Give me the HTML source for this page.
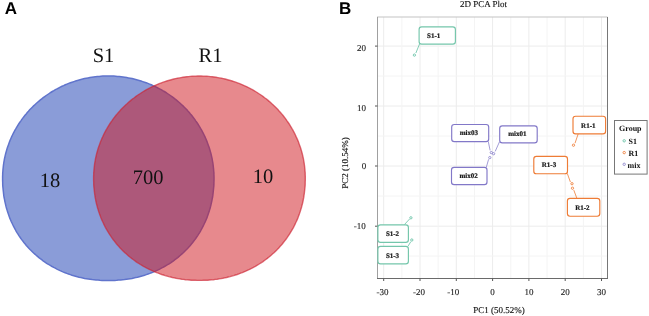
<!DOCTYPE html>
<html><head><meta charset="utf-8">
<style>
html,body{margin:0;padding:0;background:#fff;width:649px;height:316px;overflow:hidden}
svg{display:block;will-change:transform}
text{text-rendering:geometricPrecision}
.pl{font-family:"Liberation Sans",sans-serif;font-weight:bold;font-size:17px;fill:#000}
.sv{font-family:"Liberation Serif",serif;fill:#111}
.vn{font-size:20.5px}
.tk{font-size:9px;fill:#222;stroke:#222;stroke-width:0.12px}
.ax{font-size:9px;fill:#111;stroke:#111;stroke-width:0.12px}
.lb{font-size:7px;font-weight:bold;fill:#1a1a1a;stroke:#1a1a1a;stroke-width:0.22px}
.lg{font-size:8px;font-weight:bold;fill:#111}
</style></head><body>
<svg width="649" height="316" viewBox="0 0 649 316">
<!-- Panel A -->
<text class="pl" x="4.8" y="13.9">A</text>
<g id="venn">
  <path d="M214.0,178.2 214.0,180.4 213.9,182.4 213.9,184.4 213.8,186.3 213.6,188.2 213.4,190.1 213.2,192.0 213.0,193.8 212.8,195.7 212.5,197.5 212.1,199.3 211.8,201.1 211.4,202.9 211.0,204.7 210.6,206.4 210.1,208.2 209.6,209.9 209.1,211.6 208.5,213.3 207.9,215.0 207.3,216.7 206.7,218.4 206.0,220.0 205.3,221.6 204.5,223.2 203.8,224.8 203.0,226.4 202.2,228.0 201.3,229.5 200.5,231.1 199.6,232.6 198.6,234.1 197.7,235.6 196.7,237.0 195.7,238.5 194.7,239.9 193.6,241.3 192.5,242.7 191.4,244.0 190.3,245.4 189.1,246.7 188.0,248.0 186.8,249.3 185.5,250.5 184.3,251.7 183.0,253.0 181.7,254.1 180.4,255.3 179.1,256.4 177.7,257.6 176.3,258.7 174.9,259.7 173.5,260.8 172.0,261.8 170.6,262.8 169.1,263.8 167.6,264.7 166.0,265.6 164.5,266.5 162.9,267.4 161.3,268.2 159.7,269.1 158.1,269.9 156.5,270.6 154.8,271.4 153.2,272.1 151.5,272.7 149.8,273.4 148.1,274.0 146.3,274.6 144.6,275.2 142.8,275.7 141.1,276.2 139.3,276.7 137.5,277.2 135.7,277.6 133.8,278.0 132.0,278.4 130.1,278.7 128.3,279.0 126.4,279.3 124.5,279.6 122.5,279.8 120.6,280.0 118.6,280.1 116.7,280.3 114.7,280.4 112.6,280.4 110.5,280.5 108.3,280.5 106.1,280.5 104.0,280.4 101.9,280.4 99.9,280.3 98.0,280.1 96.0,280.0 94.1,279.8 92.1,279.6 90.2,279.3 88.3,279.0 86.5,278.7 84.6,278.4 82.8,278.0 80.9,277.6 79.1,277.2 77.3,276.7 75.5,276.2 73.8,275.7 72.0,275.2 70.3,274.6 68.5,274.0 66.8,273.4 65.1,272.7 63.4,272.1 61.8,271.4 60.1,270.6 58.5,269.9 56.9,269.1 55.3,268.2 53.7,267.4 52.1,266.5 50.6,265.6 49.0,264.7 47.5,263.8 46.0,262.8 44.6,261.8 43.1,260.8 41.7,259.7 40.3,258.7 38.9,257.6 37.5,256.4 36.2,255.3 34.9,254.1 33.6,253.0 32.3,251.7 31.1,250.5 29.8,249.3 28.6,248.0 27.5,246.7 26.3,245.4 25.2,244.0 24.1,242.7 23.0,241.3 21.9,239.9 20.9,238.5 19.9,237.0 18.9,235.6 18.0,234.1 17.0,232.6 16.1,231.1 15.3,229.5 14.4,228.0 13.6,226.4 12.8,224.8 12.1,223.2 11.3,221.6 10.6,220.0 9.9,218.4 9.3,216.7 8.7,215.0 8.1,213.3 7.5,211.6 7.0,209.9 6.5,208.2 6.0,206.4 5.6,204.7 5.2,202.9 4.8,201.1 4.5,199.3 4.1,197.5 3.8,195.7 3.6,193.8 3.4,192.0 3.2,190.1 3.0,188.2 2.8,186.3 2.7,184.4 2.7,182.4 2.6,180.4 2.6,178.2 2.6,176.4 2.7,174.6 2.7,172.9 2.9,171.1 3.0,169.3 3.2,167.5 3.4,165.7 3.6,164.0 3.9,162.2 4.2,160.5 4.5,158.7 4.9,157.0 5.3,155.2 5.7,153.5 6.2,151.7 6.7,150.0 7.2,148.3 7.8,146.6 8.4,144.9 9.0,143.2 9.6,141.6 10.3,139.9 11.0,138.3 11.7,136.6 12.5,135.0 13.3,133.4 14.1,131.8 15.0,130.2 15.9,128.7 16.8,127.1 17.7,125.6 18.7,124.0 19.7,122.5 20.7,121.1 21.7,119.6 22.8,118.1 23.9,116.7 25.0,115.3 26.2,113.9 27.3,112.5 28.5,111.2 29.7,109.8 31.0,108.5 32.3,107.2 33.6,105.9 34.9,104.7 36.2,103.5 37.6,102.3 39.0,101.1 40.4,99.9 41.8,98.8 43.2,97.7 44.7,96.6 46.2,95.5 47.7,94.5 49.2,93.5 50.7,92.5 52.3,91.5 53.9,90.6 55.4,89.7 57.1,88.8 58.7,88.0 60.3,87.1 62.0,86.3 63.6,85.6 65.3,84.8 67.0,84.1 68.7,83.4 70.4,82.8 72.1,82.2 73.9,81.6 75.6,81.0 77.4,80.5 79.2,80.0 80.9,79.5 82.7,79.0 84.5,78.6 86.3,78.2 88.1,77.9 89.9,77.6 91.8,77.3 93.6,77.0 95.4,76.8 97.3,76.6 99.1,76.4 100.9,76.2 102.8,76.1 104.6,76.1 106.5,76.0 108.3,76.0 110.1,76.0 112.0,76.1 113.8,76.1 115.7,76.2 117.5,76.4 119.3,76.6 121.2,76.8 123.0,77.0 124.8,77.3 126.7,77.6 128.5,77.9 130.3,78.2 132.1,78.6 133.9,79.0 135.7,79.5 137.4,80.0 139.2,80.5 141.0,81.0 142.7,81.6 144.5,82.2 146.2,82.8 147.9,83.4 149.6,84.1 151.3,84.8 153.0,85.6 154.6,86.3 156.3,87.1 157.9,88.0 159.5,88.8 161.2,89.7 162.7,90.6 164.3,91.5 165.9,92.5 167.4,93.5 168.9,94.5 170.4,95.5 171.9,96.6 173.4,97.7 174.8,98.8 176.2,99.9 177.6,101.1 179.0,102.3 180.4,103.5 181.7,104.7 183.0,105.9 184.3,107.2 185.6,108.5 186.9,109.8 188.1,111.2 189.3,112.5 190.4,113.9 191.6,115.3 192.7,116.7 193.8,118.1 194.9,119.6 195.9,121.1 196.9,122.5 197.9,124.0 198.9,125.6 199.8,127.1 200.7,128.7 201.6,130.2 202.5,131.8 203.3,133.4 204.1,135.0 204.9,136.6 205.6,138.3 206.3,139.9 207.0,141.6 207.6,143.2 208.2,144.9 208.8,146.6 209.4,148.3 209.9,150.0 210.4,151.7 210.9,153.5 211.3,155.2 211.7,157.0 212.1,158.7 212.4,160.5 212.7,162.2 213.0,164.0 213.2,165.7 213.4,167.5 213.6,169.3 213.7,171.1 213.9,172.9 213.9,174.6 214.0,176.4Z" fill="#8a9cd8" stroke="#6074cc" stroke-width="1.5"/>
  <path d="M305.3,178.2 305.3,180.3 305.2,182.3 305.2,184.2 305.1,186.1 304.9,188.0 304.7,189.9 304.5,191.7 304.3,193.5 304.0,195.4 303.8,197.2 303.4,199.0 303.1,200.8 302.7,202.5 302.3,204.3 301.8,206.1 301.4,207.8 300.8,209.5 300.3,211.2 299.7,212.9 299.2,214.6 298.5,216.3 297.9,218.0 297.2,219.6 296.5,221.2 295.7,222.8 295.0,224.4 294.2,226.0 293.4,227.6 292.5,229.1 291.6,230.7 290.7,232.2 289.8,233.7 288.8,235.2 287.8,236.6 286.8,238.1 285.8,239.5 284.7,240.9 283.6,242.3 282.5,243.7 281.4,245.0 280.2,246.3 279.0,247.7 277.8,248.9 276.6,250.2 275.3,251.4 274.0,252.7 272.7,253.8 271.4,255.0 270.0,256.2 268.7,257.3 267.3,258.4 265.8,259.5 264.4,260.5 263.0,261.6 261.5,262.6 260.0,263.5 258.5,264.5 256.9,265.4 255.4,266.3 253.8,267.2 252.2,268.0 250.6,268.9 249.0,269.7 247.3,270.4 245.7,271.2 244.0,271.9 242.3,272.6 240.6,273.2 238.9,273.9 237.2,274.5 235.4,275.0 233.7,275.6 231.9,276.1 230.1,276.6 228.3,277.0 226.5,277.5 224.7,277.9 222.8,278.3 221.0,278.6 219.1,278.9 217.2,279.2 215.3,279.4 213.4,279.7 211.5,279.9 209.6,280.0 207.6,280.2 205.7,280.3 203.7,280.3 201.6,280.4 199.5,280.4 197.3,280.4 195.2,280.3 193.2,280.3 191.3,280.2 189.3,280.0 187.4,279.9 185.5,279.7 183.6,279.4 181.7,279.2 179.8,278.9 177.9,278.6 176.1,278.3 174.2,277.9 172.4,277.5 170.6,277.0 168.8,276.6 167.0,276.1 165.2,275.6 163.5,275.0 161.7,274.5 160.0,273.9 158.3,273.2 156.6,272.6 154.9,271.9 153.2,271.2 151.6,270.4 149.9,269.7 148.3,268.9 146.7,268.0 145.1,267.2 143.5,266.3 142.0,265.4 140.4,264.5 138.9,263.5 137.4,262.6 135.9,261.6 134.5,260.5 133.1,259.5 131.6,258.4 130.2,257.3 128.9,256.2 127.5,255.0 126.2,253.8 124.9,252.7 123.6,251.4 122.3,250.2 121.1,248.9 119.9,247.7 118.7,246.3 117.5,245.0 116.4,243.7 115.3,242.3 114.2,240.9 113.1,239.5 112.1,238.1 111.1,236.6 110.1,235.2 109.1,233.7 108.2,232.2 107.3,230.7 106.4,229.1 105.5,227.6 104.7,226.0 103.9,224.4 103.2,222.8 102.4,221.2 101.7,219.6 101.0,218.0 100.4,216.3 99.7,214.6 99.2,212.9 98.6,211.2 98.1,209.5 97.5,207.8 97.1,206.1 96.6,204.3 96.2,202.5 95.8,200.8 95.5,199.0 95.1,197.2 94.9,195.4 94.6,193.5 94.4,191.7 94.2,189.9 94.0,188.0 93.8,186.1 93.7,184.2 93.7,182.3 93.6,180.3 93.6,178.2 93.6,176.4 93.7,174.6 93.7,172.9 93.9,171.1 94.0,169.3 94.2,167.5 94.4,165.7 94.6,164.0 94.9,162.2 95.2,160.5 95.5,158.7 95.9,157.0 96.3,155.2 96.7,153.5 97.2,151.7 97.7,150.0 98.2,148.3 98.8,146.6 99.4,144.9 100.0,143.2 100.6,141.6 101.3,139.9 102.0,138.3 102.8,136.6 103.5,135.0 104.3,133.4 105.1,131.8 106.0,130.2 106.9,128.7 107.8,127.1 108.7,125.6 109.7,124.0 110.7,122.5 111.7,121.1 112.7,119.6 113.8,118.1 114.9,116.7 116.0,115.3 117.2,113.9 118.4,112.5 119.6,111.2 120.8,109.8 122.0,108.5 123.3,107.2 124.6,105.9 125.9,104.7 127.3,103.5 128.6,102.3 130.0,101.1 131.4,99.9 132.8,98.8 134.3,97.7 135.7,96.6 137.2,95.5 138.7,94.5 140.3,93.5 141.8,92.5 143.4,91.5 144.9,90.6 146.5,89.7 148.1,88.8 149.8,88.0 151.4,87.1 153.0,86.3 154.7,85.6 156.4,84.8 158.1,84.1 159.8,83.4 161.5,82.8 163.2,82.2 165.0,81.6 166.7,81.0 168.5,80.5 170.3,80.0 172.1,79.5 173.8,79.0 175.6,78.6 177.4,78.2 179.3,77.9 181.1,77.6 182.9,77.3 184.7,77.0 186.6,76.8 188.4,76.6 190.2,76.4 192.1,76.2 193.9,76.1 195.8,76.1 197.6,76.0 199.4,76.0 201.3,76.0 203.1,76.1 205.0,76.1 206.8,76.2 208.7,76.4 210.5,76.6 212.3,76.8 214.2,77.0 216.0,77.3 217.8,77.6 219.6,77.9 221.5,78.2 223.3,78.6 225.1,79.0 226.8,79.5 228.6,80.0 230.4,80.5 232.2,81.0 233.9,81.6 235.7,82.2 237.4,82.8 239.1,83.4 240.8,84.1 242.5,84.8 244.2,85.6 245.9,86.3 247.5,87.1 249.1,88.0 250.8,88.8 252.4,89.7 254.0,90.6 255.5,91.5 257.1,92.5 258.6,93.5 260.2,94.5 261.7,95.5 263.2,96.6 264.6,97.7 266.1,98.8 267.5,99.9 268.9,101.1 270.3,102.3 271.6,103.5 273.0,104.7 274.3,105.9 275.6,107.2 276.9,108.5 278.1,109.8 279.3,111.2 280.5,112.5 281.7,113.9 282.9,115.3 284.0,116.7 285.1,118.1 286.2,119.6 287.2,121.1 288.2,122.5 289.2,124.0 290.2,125.6 291.1,127.1 292.0,128.7 292.9,130.2 293.8,131.8 294.6,133.4 295.4,135.0 296.1,136.6 296.9,138.3 297.6,139.9 298.3,141.6 298.9,143.2 299.5,144.9 300.1,146.6 300.7,148.3 301.2,150.0 301.7,151.7 302.2,153.5 302.6,155.2 303.0,157.0 303.4,158.7 303.7,160.5 304.0,162.2 304.3,164.0 304.5,165.7 304.7,167.5 304.9,169.3 305.0,171.1 305.2,172.9 305.2,174.6 305.3,176.4Z" fill="rgb(208,20,28)" fill-opacity="0.5" stroke="rgb(205,35,50)" stroke-opacity="0.65" stroke-width="1.4"/>
</g>
<text class="sv vn" x="103.5" y="61.8" text-anchor="middle">S1</text>
<text class="sv vn" x="210.5" y="61.8" text-anchor="middle">R1</text>
<text class="sv vn" x="50" y="186.8" text-anchor="middle">18</text>
<text class="sv vn" x="148" y="183.8" text-anchor="middle">700</text>
<text class="sv vn" x="263" y="182.8" text-anchor="middle">10</text>

<!-- Panel B -->
<text class="pl" x="338.9" y="13.9">B</text>
<text class="sv ax" x="483.5" y="7.4" text-anchor="middle">2D PCA Plot</text>
<!-- grid -->
<g stroke="#ececec" stroke-width="1">
  <line x1="383.7" y1="17" x2="383.7" y2="278"/>
  <line x1="420" y1="17" x2="420" y2="278"/>
  <line x1="456.3" y1="17" x2="456.3" y2="278"/>
  <line x1="492.6" y1="17" x2="492.6" y2="278"/>
  <line x1="528.9" y1="17" x2="528.9" y2="278"/>
  <line x1="565.2" y1="17" x2="565.2" y2="278"/>
  <line x1="601.5" y1="17" x2="601.5" y2="278"/>
  <line x1="377" y1="46.1" x2="607" y2="46.1"/>
  <line x1="377" y1="106" x2="607" y2="106"/>
  <line x1="377" y1="166" x2="607" y2="166"/>
  <line x1="377" y1="226.2" x2="607" y2="226.2"/>
</g>
<g stroke="#f4f4f4" stroke-width="1">
  <line x1="401.85" y1="17" x2="401.85" y2="278"/>
  <line x1="438.15" y1="17" x2="438.15" y2="278"/>
  <line x1="474.45" y1="17" x2="474.45" y2="278"/>
  <line x1="510.75" y1="17" x2="510.75" y2="278"/>
  <line x1="547.05" y1="17" x2="547.05" y2="278"/>
  <line x1="583.35" y1="17" x2="583.35" y2="278"/>
  <line x1="377" y1="76" x2="607" y2="76"/>
  <line x1="377" y1="136" x2="607" y2="136"/>
  <line x1="377" y1="196" x2="607" y2="196"/>
  <line x1="377" y1="256" x2="607" y2="256"/>
</g>
<!-- border -->
<line x1="377" y1="17" x2="607.5" y2="17" stroke="#c4c4c4" stroke-width="1.2"/>
<line x1="377.5" y1="17" x2="377.5" y2="278.5" stroke="#a0a0a0" stroke-width="1"/>
<line x1="607.5" y1="17" x2="607.5" y2="278.5" stroke="#777" stroke-width="1"/>
<line x1="377" y1="278.5" x2="608" y2="278.5" stroke="#6a6a6a" stroke-width="1"/>
<!-- ticks -->
<g stroke="#555" stroke-width="1">
  <line x1="375" y1="46.1" x2="377.5" y2="46.1"/>
  <line x1="375" y1="106" x2="377.5" y2="106"/>
  <line x1="375" y1="166" x2="377.5" y2="166"/>
  <line x1="375" y1="226.2" x2="377.5" y2="226.2"/>
  <line x1="383.7" y1="278.5" x2="383.7" y2="281"/>
  <line x1="420" y1="278.5" x2="420" y2="281"/>
  <line x1="456.3" y1="278.5" x2="456.3" y2="281"/>
  <line x1="492.6" y1="278.5" x2="492.6" y2="281"/>
  <line x1="528.9" y1="278.5" x2="528.9" y2="281"/>
  <line x1="565.2" y1="278.5" x2="565.2" y2="281"/>
  <line x1="601.5" y1="278.5" x2="601.5" y2="281"/>
</g>
<g class="sv tk" text-anchor="end">
  <text x="366" y="50.9">20</text>
  <text x="366" y="110.8">10</text>
  <text x="366.3" y="168.8">0</text>
  <text x="365.7" y="229">-10</text>
</g>
<g class="sv tk" text-anchor="middle">
  <text x="382.5" y="295.1">-30</text>
  <text x="419" y="295.1">-20</text>
  <text x="453.2" y="295.1">-10</text>
  <text x="492.6" y="295.1">0</text>
  <text x="528.9" y="295.1">10</text>
  <text x="565.2" y="295.1">20</text>
  <text x="601.5" y="295.1">30</text>
</g>
<text class="sv ax" x="499" y="312.9" text-anchor="middle">PC1 (50.52%)</text>
<text class="sv ax" transform="translate(348.2,163) rotate(-90)" text-anchor="middle">PC2 (10.54%)</text>

<!-- segments -->
<g stroke-width="0.8" fill="none">
  <line x1="419.6" y1="43.8" x2="415.9" y2="53.0" stroke="#66c2a5"/>
  <line x1="404.3" y1="224.7" x2="409.6" y2="219.0" stroke="#66c2a5"/>
  <line x1="408.0" y1="246.2" x2="410.9" y2="241.6" stroke="#66c2a5"/>
  <line x1="488.3" y1="141.6" x2="490.1" y2="150.4" stroke="#8c84cc"/>
  <line x1="499.4" y1="142.0" x2="495.2" y2="151.4" stroke="#8c84cc"/>
  <line x1="486.3" y1="167.3" x2="488.6" y2="159.3" stroke="#8c84cc"/>
  <line x1="578.2" y1="133.9" x2="575.0" y2="143.2" stroke="#ee7c36"/>
  <line x1="567.3" y1="173.5" x2="570.4" y2="182.0" stroke="#ee7c36"/>
  <line x1="576.9" y1="198.4" x2="573.8" y2="190.1" stroke="#ee7c36"/>
</g>
<!-- points -->
<g fill="none" stroke-width="0.85">
  <circle cx="414.4" cy="55.1" r="1.15" stroke="#66c2a5"/>
  <circle cx="410.9" cy="217.8" r="1.15" stroke="#66c2a5"/>
  <circle cx="411.8" cy="240.0" r="1.15" stroke="#66c2a5"/>
  <circle cx="491.3" cy="152.6" r="1.15" stroke="#8c84cc"/>
  <circle cx="493.6" cy="153.7" r="1.15" stroke="#8c84cc"/>
  <circle cx="489.8" cy="157.6" r="1.15" stroke="#8c84cc"/>
  <circle cx="573.5" cy="145.2" r="1.15" stroke="#ee7c36"/>
  <circle cx="572.0" cy="183.7" r="1.15" stroke="#ee7c36"/>
  <circle cx="572.5" cy="188.2" r="1.15" stroke="#ee7c36"/>
</g>
<!-- label boxes -->
<g fill="#fff" stroke-width="1.15">
  <rect x="419.1" y="26.9" width="36.3" height="17.2" rx="2.6" stroke="#74c6ab"/>
  <rect x="377.9" y="224.8" width="30.5" height="17.6" rx="2.6" stroke="#74c6ab"/>
  <rect x="377.9" y="246.3" width="30.5" height="17.6" rx="2.6" stroke="#74c6ab"/>
  <rect x="451.7" y="124.5" width="37.0" height="17.1" rx="2.6" stroke="#8278c8"/>
  <rect x="499.7" y="125.8" width="37.5" height="17.0" rx="2.6" stroke="#8278c8"/>
  <rect x="451.5" y="167.3" width="35.5" height="17.3" rx="2.6" stroke="#8278c8"/>
  <rect x="573.0" y="116.2" width="32.6" height="17.6" rx="2.6" stroke="#ee7c36"/>
  <rect x="533.8" y="156.4" width="33.7" height="17.4" rx="2.6" stroke="#ee7c36"/>
  <rect x="567.4" y="198.4" width="32.4" height="17.8" rx="2.6" stroke="#ee7c36"/>
</g>
<g class="sv lb">
  <text x="427.1" y="37.6">S1-1</text>
  <text x="385.9" y="236.2">S1-2</text>
  <text x="385.9" y="257.6">S1-3</text>
  <text x="459.7" y="134.8">mix03</text>
  <text x="508.2" y="136.4">mix01</text>
  <text x="459.5" y="178.3">mix02</text>
  <text x="581.1" y="127.5">R1-1</text>
  <text x="541.8" y="167.3">R1-3</text>
  <text x="575.2" y="209.5">R1-2</text>
</g>
<!-- legend -->
<rect x="614.5" y="120.5" width="32.6" height="53.6" fill="#fff" stroke="#777" stroke-width="1"/>
<text class="sv lg" x="619" y="131">Group</text>
<circle cx="624.2" cy="140.8" r="1.2" fill="none" stroke="#66c2a5" stroke-width="0.85"/>
<circle cx="624.2" cy="152.6" r="1.2" fill="none" stroke="#ee7c36" stroke-width="0.85"/>
<circle cx="624.2" cy="164.3" r="1.2" fill="none" stroke="#8c84cc" stroke-width="0.85"/>
<text class="sv lg" x="628.5" y="144.3">S1</text>
<text class="sv lg" x="628.5" y="156.3">R1</text>
<text class="sv lg" x="627.5" y="168.2">mix</text>
</svg>
</body></html>
